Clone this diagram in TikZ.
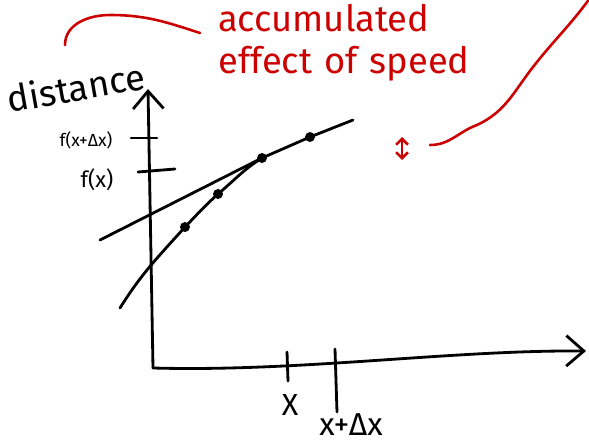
\documentclass[tikz,border=0pt]{standalone}
\usepackage{fontspec}
\setmainfont{Fira Sans}
\usetikzlibrary{arrows.meta,positioning,calc}
\definecolor{Ink}{HTML}{000000}
\definecolor{Pen}{HTML}{CC0000}
\newcommand{\CurvePt}[3]{%
  \node[dotpt] (#1) at (#2,#3) {};%
}
\tikzset{
  ink/.style={draw=Ink,line width=2.4pt,line cap=round,line join=round},
  redpen/.style={draw=Pen,line width=2.2pt,line cap=round,line join=round},
  dotpt/.style={circle,fill=Ink,inner sep=0pt,minimum size=8.5pt},
  hand/.style={inner sep=0pt,text=Ink},
  barb/.style={-{Straight Barb[length=15pt,width=26pt]}},
}

\begin{document}
\begin{tikzpicture}[x=0.03cm,y=-0.03cm]
\useasboundingbox (0,0) rectangle (589,444);
% axes
\coordinate (O) at (153,368);
\coordinate (ytop) at (148,89);
\coordinate (xend) at (586,351);
\draw[ink,barb] (O) -- (ytop);
\draw[ink,barb] (O) .. controls (300,372) and (450,350) .. (xend);
% ticks
\coordinate (tx1a) at (287,352); \coordinate (tx1b) at (288,381);
\coordinate (tx2a) at (335,349); \coordinate (tx2b) at (337,412);
\coordinate (ty1a) at (131,138); \coordinate (ty1b) at (157,138);
\coordinate (ty2a) at (138,172); \coordinate (ty2b) at (175,169);
\draw[ink] (tx1a) -- (tx1b);
\draw[ink] (tx2a) -- (tx2b);
\draw[ink] (ty1a) -- (ty1b);
\draw[ink] (ty2a) -- (ty2b);
% labels
\node[hand,rotate=10,font=\fontsize{31}{31}\selectfont] (dist) at (76,87) {distance};
\node[hand,font=\fontsize{15}{15}\selectfont] (fxdx) at (86,140) {f(x+Δx)};
\node[hand,font=\fontsize{19}{19}\selectfont] (fx) at (97,180) {f(x)};
\node[hand,font=\fontsize{26}{26}\selectfont] (lx) at (290,405) {X};
\node[hand,font=\fontsize{27}{27}\selectfont] (lxdx) at (351,425) {x+Δx};
% curve and line
\CurvePt{d1}{185}{227}
\CurvePt{d2}{218}{194}
\CurvePt{d3}{262}{158}
\CurvePt{d4}{310}{137}
\coordinate (c0) at (120,308);
\coordinate (la) at (100,240);
\coordinate (lb) at (353,120);
\draw[ink] (c0) to[out=58,in=228] (d1.center) to[out=46,in=222] (d2.center)
  to[out=40,in=212] (d3.center);
\draw[ink] (la) -- (d3.center) -- (d4.center) -- (lb);
% red notes
\node[hand,text=Pen,anchor=north west,align=left,font=\fontsize{31}{36}\selectfont] (note) at (218,4) {accumulated\\effect\,\,of\,\,speed};
\coordinate (a0) at (65,45);
\coordinate (a1) at (110,15);
\coordinate (a2) at (200,33);
\draw[redpen] (a0) to[out=90,in=180] (a1) to[out=0,in=162] (a2);
\coordinate (v1) at (402,137);
\coordinate (v2) at (402,160);
\draw[redpen,{Straight Barb[length=5pt,width=10pt]}-{Straight Barb[length=5pt,width=10pt]}] (v1) -- (v2);
\coordinate (r0) at (430,145);
\coordinate (r1) at (477,125);
\coordinate (r2) at (533,67);
\coordinate (r3) at (590,-2);
\draw[redpen] (r0) to[out=0,in=200] (r1) to[out=25,in=232] (r2) to[out=52,in=234] (r3);
\end{tikzpicture}
\end{document}
